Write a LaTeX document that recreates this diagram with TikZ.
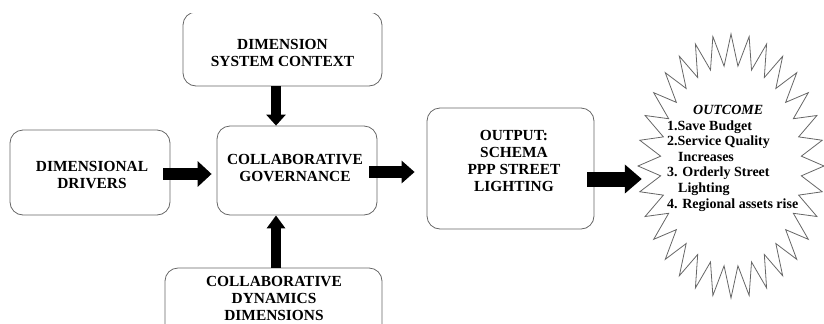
\documentclass[tikz,border=0pt]{standalone}
\usepackage{fontspec}
\setmainfont{Liberation Serif}
\usetikzlibrary{arrows.meta,calc}
\begin{document}
\begin{tikzpicture}[x=1bp,y=-1bp,
  box/.style={draw=black!60, line width=0.8bp, rounded corners=13bp, inner sep=0pt},
  lbl/.style={font=\bfseries\fontsize{15.4bp}{17bp}\selectfont, align=center, inner sep=0pt},
  fat/.style n args={3}{draw=black, line width=#1, -{Triangle[width=#2,length=#3]}},
  starline/.style={draw=black!60, line width=0.8bp, line join=miter}
]
\useasboundingbox (0,0) rectangle (824,323);
\clip (0,13) rectangle (824,323);

% boxes
\node[box, minimum width=199bp, minimum height=74bp] (sc) at (282.5,49) {};
\node[lbl] (sct) at (282.5,53) {DIMENSION\\SYSTEM CONTEXT};
\node[box, minimum width=160bp, minimum height=85bp] (dd) at (90,172.5) {};
\node[lbl] (ddt) at (92,175) {DIMENSIONAL\\DRIVERS};
\node[box, minimum width=160bp, minimum height=89bp] (cg) at (297,170.5) {};
\node[lbl] (cgt) at (295,168) {COLLABORATIVE\\GOVERNANCE};
\node[box, minimum width=217bp, minimum height=90bp] (cd) at (273.5,313) {};
\node[lbl] (cdt) at (274,298.5) {COLLABORATIVE\\DYNAMICS\\DIMENSIONS};
\node[box, minimum width=167bp, minimum height=121bp] (out) at (510.5,168.5) {};
\node[lbl] (outt) at (514,160.5) {OUTPUT:\\SCHEMA\\PPP STREET\\LIGHTING};

% starburst
\node[inner sep=0pt, minimum width=186bp, minimum height=264bp] (sb) at (731,166) {};
\draw[starline] ({731+93},166)
  \foreach \k [evaluate=\k as \f using {ifthenelse(mod(\k,2)==1,0.76,1)}, evaluate=\k as \a using {\k*5.625}] in {1,...,63} {
    -- ({731+93*\f*cos(\a)},{166+132*\f*sin(\a)})
  } -- cycle;
\node[font=\bfseries\fontsize{14bp}{15.6bp}\selectfont, align=left, anchor=north west, inner sep=0pt] (sbt) at (667,105)
  {\hspace*{26bp}\textit{OUTCOME}\\1.Save Budget\\2.Service Quality\\\hspace*{11bp}Increases\\3. Orderly Street\\\hspace*{11bp}Lighting\\4. Regional assets rise};

% arrows
\coordinate (vx) at (276,0);
\coordinate (h1) at (0,174);
\coordinate (h2) at (0,172);
\coordinate (h3) at (0,179);
\draw[fat={10bp}{19bp}{11bp}] (vx |- sc.south) -- (vx |- cg.north);
\draw[fat={10bp}{18bp}{13bp}] (vx |- cd.north) -- (vx |- cg.south);
\draw[fat={12bp}{25bp}{14bp}, shorten <=-7bp, shorten >=5bp] (dd.east |- h1) -- (cg.west |- h1);
\draw[fat={12bp}{22bp}{13bp}, shorten <=-8bp, shorten >=12bp] (cg.east |- h2) -- (out.west |- h2);
\draw[fat={15bp}{28bp}{17bp}, shorten <=-7bp, shorten >=-4bp] (out.east |- h3) -- (sb.west |- h3);
\end{tikzpicture}
\end{document}
